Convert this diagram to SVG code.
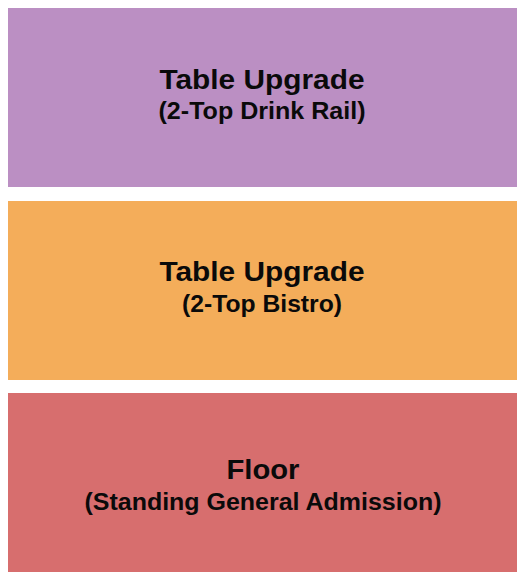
<svg xmlns="http://www.w3.org/2000/svg" width="525" height="580" viewBox="0 0 525 580">
<style>
.sec{stroke:none}
.t{font-family:"Liberation Sans",Arial,sans-serif;font-weight:bold;fill:#0a0a0a;text-anchor:middle}
.h{font-size:27px}
.s{font-size:23px}
</style>
<rect width="525" height="580" fill="#ffffff"/>
<g id="drink-rail">
<rect class="sec" x="8" y="8" width="509" height="179" fill="#bb8fc3"/>
<text class="t h" x="262" y="88.5" textLength="205" lengthAdjust="spacingAndGlyphs">Table Upgrade</text>
<text class="t s" x="262" y="119" textLength="207" lengthAdjust="spacingAndGlyphs">(2-Top Drink Rail)</text>
</g>
<g id="bistro">
<rect class="sec" x="8" y="201" width="509" height="179" fill="#f4ad5a"/>
<text class="t h" x="262" y="281" textLength="205" lengthAdjust="spacingAndGlyphs">Table Upgrade</text>
<text class="t s" x="262" y="312" textLength="160" lengthAdjust="spacingAndGlyphs">(2-Top Bistro)</text>
</g>
<g id="floor">
<rect class="sec" x="8" y="393" width="509" height="179" fill="#d76e6e"/>
<text class="t h" x="263" y="479" textLength="73" lengthAdjust="spacingAndGlyphs">Floor</text>
<text class="t s" x="263" y="510" textLength="357" lengthAdjust="spacingAndGlyphs">(Standing General Admission)</text>
</g>
<g id="connectors"></g>
</svg>
